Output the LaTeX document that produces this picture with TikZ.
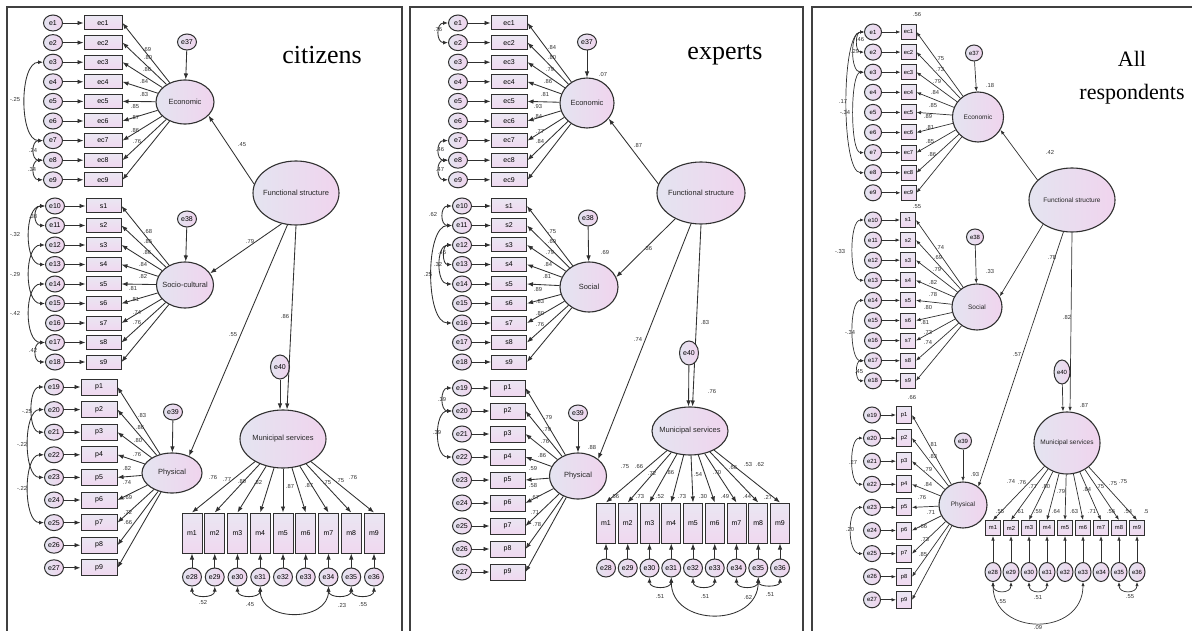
\documentclass[tikz,border=0pt]{standalone}
\usepackage{fontspec}
\setmainfont{Liberation Sans}
\newfontfamily\titlefont{Liberation Serif}
\usetikzlibrary{arrows.meta,shapes.geometric}
\definecolor{ln}{HTML}{303030}
\definecolor{latL}{HTML}{E4E4F0}
\definecolor{latR}{HTML}{F0D4EE}
\definecolor{boxT}{HTML}{EAE6F2}
\definecolor{boxB}{HTML}{F0D8F0}
\tikzset{
 arr/.style={-{Latex[length=6pt,width=4.5pt]}, line width=0.85pt, draw=ln},
 arrs/.style={-{Latex[length=4.5pt,width=3.5pt]}, line width=0.7pt, draw=ln},
 cov/.style={{Latex[length=5pt,width=4pt]}-{Latex[length=5pt,width=4pt]}, line width=0.85pt, draw=ln},
 covs/.style={{Latex[length=4pt,width=3.2pt]}-{Latex[length=4pt,width=3.2pt]}, line width=0.7pt, draw=ln},
 errbase/.style={ellipse, draw=ln, line width=1pt, left color=latL, right color=latR, inner sep=0pt},
 errA/.style={errbase, minimum width=19pt, minimum height=16pt, font=\fontsize{7}{7}\selectfont},
 errC/.style={errbase, minimum width=17pt, minimum height=16pt, font=\fontsize{6}{6}\selectfont},
 obsbase/.style={rectangle, draw=ln, line width=1pt, top color=boxT, bottom color=boxB, inner sep=0pt},
 obsA/.style={obsbase, minimum width=36pt, minimum height=14pt, font=\fontsize{7}{7}\selectfont},
 obsC/.style={obsbase, minimum width=15pt, minimum height=15pt, font=\fontsize{5.8}{6}\selectfont},
 lat/.style={ellipse, draw=ln, line width=1.1pt, left color=latL, right color=latR, inner sep=0pt},
 latlab/.style={inner sep=0pt, font=\fontsize{7.5}{8}\selectfont, text=black!85},
 latlabC/.style={inner sep=0pt, font=\fontsize{6.5}{7}\selectfont, text=black!85},
 lab/.style={inner sep=0pt, font=\fontsize{5.8}{6}\selectfont, text=ln},
 frame/.style={draw=black!75, line width=1.3pt},
 title/.style={font={\titlefont\fontsize{26}{30}\selectfont}, inner sep=0pt},
 titleC/.style={font={\titlefont\fontsize{22}{33}\selectfont}, inner sep=0pt, align=center},
}
\newcommand\mylabs[1]{\foreach \lx/\ly/\labtxt in {#1}{\node[lab] (lab-\lx-\ly) at (\lx,-\ly) {\labtxt};}}
\begin{document}
\begin{tikzpicture}[x=1pt,y=1pt]
\useasboundingbox (0,0) rectangle (1192,-631);
\fill[white] (0,0) rectangle (1192,-631);
% ================= Panel A : citizens =================
\draw[frame] (7,-640) -- (7,-7) -- (402,-7) -- (402,-640);
\node[title] (A-title) at (322,-55) {citizens};
\foreach \i in {1,...,9}{
  \pgfmathsetmacro\yy{-23-19.6*(\i-1)}
  \node[errA] (A-e\i) at (53,\yy) {e\i};
  \node[obsA,minimum width=38pt] (A-ec\i) at (103,\yy) {ec\i};
  \draw[arr] (A-e\i) -- (A-ec\i);
}
\foreach \i [evaluate=\i as \yy using -206-19.5*(\i-1), evaluate=\i as \n using int(9+\i)] in {1,...,9}{
  \node[errA] (A-e\n) at (55,\yy) {e\n};
  \node[obsA,minimum width=35pt] (A-s\i) at (103.5,\yy) {s\i};
  \draw[arr] (A-e\n) -- (A-s\i);
}
\foreach \i [evaluate=\i as \yy using -387-22.6*(\i-1), evaluate=\i as \n using int(18+\i)] in {1,...,9}{
  \node[errA] (A-e\n) at (54,\yy) {e\n};
  \node[obsA,minimum height=16pt] (A-p\i) at (99,\yy) {p\i};
  \draw[arr] (A-e\n) -- (A-p\i);
}
\node[lat,minimum width=58pt,minimum height=44pt,label={[latlab]center:Economic}] (A-Eco) at (185,-102) {};
\node[lat,minimum width=57pt,minimum height=46pt,label={[latlab]center:Socio-cultural}] (A-Soc) at (185,-285) {};
\node[lat,minimum width=60pt,minimum height=40pt,label={[latlab]center:Physical}] (A-Phy) at (172,-473) {};
\node[lat,minimum width=86pt,minimum height=64pt,label={[latlab]center:Functional structure}] (A-Fun) at (296,-193) {};
\node[lat,minimum width=86pt,minimum height=58pt,label={[latlab]center:Municipal services}] (A-Mun) at (283,-439) {};
\node[errA] (A-e37) at (187,-42) {e37};
\node[errA] (A-e38) at (187,-219) {e38};
\node[errA] (A-e39) at (173,-412) {e39};
\node[errA,minimum height=24pt] (A-e40) at (280,-367) {e40};
\draw[arr] (A-e37) -- (A-Eco);
\draw[arr] (A-e38) -- (A-Soc);
\draw[arr] (A-e39) -- (A-Phy);
\foreach \i in {1,...,9}{
  \draw[arr] (A-Eco) -- (A-ec\i.east);
  \draw[arr] (A-Soc) -- (A-s\i.east);
  \draw[arr] (A-Phy) -- (A-p\i.east);
}
\foreach \i [evaluate=\i as \xx using 192+22.75*(\i-1), evaluate=\i as \n using int(27+\i)] in {1,...,9}{
  \node[obsA,minimum width=20pt,minimum height=40pt] (A-m\i) at (\xx,-533) {m\i};
  \node[errA,minimum height=18pt] (A-e\n) at (\xx,-577) {e\n};
  \draw[arr] (A-e\n) -- (A-m\i);
  \draw[arr] (A-Mun) -- (A-m\i.north);
}
\draw[arr] (A-Fun.168) -- (A-Eco.-30);
\draw[arr] (A-Fun.-115) -- (A-Soc.25);
\draw[arr] (A-Fun.-105) -- (A-Phy.45);
\draw[arr] (A-Fun.south) -- ([xshift=4pt]A-Mun.north);
\draw[arr] (A-e40) -- ([xshift=-3pt]A-Mun.north);
\foreach \a/\b/\d in {3/7/24,7/8/12,8/9/12,10/11/12,10/13/21,12/15/21,14/17/21,17/18/12,19/21/16,20/23/21,22/25/21}
  \draw[cov] (A-e\a.west) to[out=180,in=180,distance=\d pt] (A-e\b.west);
\foreach \a/\b/\d in {28/29/12,30/31/12,31/34/36,34/35/12,35/36/12}
  \draw[cov] (A-e\a.south) to[out=-90,in=-90,distance=\d pt] (A-e\b.south);
\mylabs{147/50/.69,148/58/.80,147/70/.86,144/82/.84,144/95/.83,135/107/.85,135/118/.87,135/131/.86,137/142/.76,
15/100/-.25,33/150/.24,32/170/.34,
148/232/.68,148/242/.85,147/253/.86,143/265/.84,143/277/.82,133/289/.81,135/300/.81,137/313/.74,137/323/.76,
33/217/.38,15/235/-.32,15/275/-.29,15/313/-.42,33/350/.42,
142/416/.83,140/428/.86,138/441/.80,137/455/.76,127/469/.82,127/483/.74,128/498/.69,128/512/.72,128/523/.66,
27/412/-.25,22/444/-.22,22/488/-.22,
213/478/.76,227/480/.77,242/482/.80,258/483/.82,290/487/.87,309/486/.87,327/483/.75,340/481/.75,353/478/.76,
203/603/.52,250/605/.45,342/605/.23,363/605/.55,
242/145/.45,250/242/.79,233/335/.55,285/317/.86}
% ================= Panel B : experts =================
\draw[frame] (410,-640) -- (410,-7) -- (803,-7) -- (803,-640);
\node[title] (B-title) at (725,-55) {experts};
\foreach \i in {1,...,9}{
  \pgfmathsetmacro\yy{-23-19.6*(\i-1)}
  \node[errA] (B-e\i) at (458,\yy) {e\i};
  \node[obsA] (B-ec\i) at (509,\yy) {ec\i};
  \draw[arr] (B-e\i) -- (B-ec\i);
}
\foreach \i [evaluate=\i as \yy using -206-19.5*(\i-1), evaluate=\i as \n using int(9+\i)] in {1,...,9}{
  \node[errA] (B-e\n) at (462,\yy) {e\n};
  \node[obsA,minimum width=35pt] (B-s\i) at (509,\yy) {s\i};
  \draw[arr] (B-e\n) -- (B-s\i);
}
\foreach \i [evaluate=\i as \yy using -388-23*(\i-1), evaluate=\i as \n using int(18+\i)] in {1,...,9}{
  \node[errA] (B-e\n) at (462,\yy) {e\n};
  \node[obsA,minimum width=35pt,minimum height=16pt] (B-p\i) at (507.5,\yy) {p\i};
  \draw[arr] (B-e\n) -- (B-p\i);
}
\node[lat,minimum width=54pt,minimum height=50pt,label={[latlab]center:Economic}] (B-Eco) at (587,-103) {};
\node[lat,minimum width=58pt,minimum height=50pt,label={[latlab]center:Social}] (B-Soc) at (589,-287) {};
\node[lat,minimum width=57pt,minimum height=46pt,label={[latlab]center:Physical}] (B-Phy) at (578,-476) {};
\node[lat,minimum width=88pt,minimum height=62pt,label={[latlab]center:Functional structure}] (B-Fun) at (701,-193) {};
\node[lat,minimum width=76pt,minimum height=48pt,label={[latlab]center:Municipal services}] (B-Mun) at (690,-431) {};
\draw[arr] (B-Fun.south) -- ([xshift=2.5pt]B-Mun.north);
\node[errA] (B-e37) at (587,-42) {e37};
\node[errA] (B-e38) at (588,-218) {e38};
\node[errA] (B-e39) at (578,-413) {e39};
\node[errA,minimum height=24pt] (B-e40) at (689,-353) {e40};
\draw[arr] (B-e37) -- (B-Eco);
\draw[arr] (B-e38) -- (B-Soc);
\draw[arr] (B-e39) -- (B-Phy);
\foreach \i in {1,...,9}{
  \draw[arr] (B-Eco) -- (B-ec\i.east);
  \draw[arr] (B-Soc) -- (B-s\i.east);
  \draw[arr] (B-Phy) -- (B-p\i.east);
}
\foreach \i [evaluate=\i as \xx using 606+21.75*(\i-1), evaluate=\i as \n using int(27+\i)] in {1,...,9}{
  \node[obsA,minimum width=19pt,minimum height=40pt] (B-m\i) at (\xx,-523) {m\i};
  \node[errA,minimum height=18pt] (B-e\n) at (\xx,-568) {e\n};
  \draw[arr] (B-e\n) -- (B-m\i);
  \draw[arr] (B-Mun) -- (B-m\i.north);
}
\draw[arr] (B-Fun.168) -- (B-Eco.-36);
\draw[arr] (B-Fun.-135) -- (B-Soc.20);
\draw[arr] (B-Fun.-108) -- (B-Phy.40);
\draw[arr] (B-e40) -- ([xshift=-1.5pt]B-Mun.north);
\foreach \a/\b/\d in {1/2/12,7/8/12,8/9/12,10/11/12,12/13/10,12/14/16,11/16/27,19/20/12,20/22/18}
  \draw[cov] (B-e\a.west) to[out=180,in=180,distance=\d pt] (B-e\b.west);
\foreach \a/\b/\d in {30/31/12,32/33/12,34/35/12,35/36/10,31/35/50}
  \draw[cov] (B-e\a.south) to[out=-90,in=-90,distance=\d pt] (B-e\b.south);
\mylabs{552/48/.84,552/58/.80,550/70/.79,548/82/.86,545/95/.81,538/107/.93,538/117/.84,540/132/.77,540/142/.84,
603/75/.07,
438/30/.76,440/150/.46,440/170/.47,
552/232/.75,552/242/.69,550/253/.79,548/265/.84,547/277/.81,538/290/.89,540/302/.83,540/314/.80,540/325/.76,
605/253/.69,
433/215/.62,442/253/.46,438/265/.32,428/275/.25,
548/418/.79,547/430/.79,545/442/.76,542/456/.86,533/469/.59,533/486/.58,535/498/.67,535/513/.71,537/525/.78,
592/448/.88,
442/400/.39,437/433/.39,
625/467/.75,639/467/.66,652/473/.72,670/473/.86,698/475/.54,717/473/.70,733/468/.66,748/465/.53,760/465/.62,
615/497/.56,640/497/.73,660/497/.52,682/497/.73,703/497/.30,725/497/.49,747/497/.44,768/497/.27,
712/392/.76,
660/597/.51,705/597/.51,748/598/.62,770/595/.51,
638/146/.87,648/249/.36,638/340/.74,705/323/.83}
% ================= Panel C : all respondents =================
\draw[frame] (812,-640) -- (812,-7) -- (1200,-7);
\node[titleC] (C-title) at (1132,-78) {All\\respondents};
\foreach \i in {1,...,9}{
  \pgfmathsetmacro\yy{-32-20.1*(\i-1)}
  \node[errC] (C-e\i) at (873,\yy) {e\i};
  \node[obsC] (C-ec\i) at (908.5,\yy) {ec\i};
  \draw[arrs] (C-e\i) -- (C-ec\i);
}
\foreach \i [evaluate=\i as \yy using -220-20.1*(\i-1), evaluate=\i as \n using int(9+\i)] in {1,...,9}{
  \node[errC] (C-e\n) at (873,\yy) {e\n};
  \node[obsC] (C-s\i) at (908,\yy) {s\i};
  \draw[arrs] (C-e\n) -- (C-s\i);
}
\foreach \i [evaluate=\i as \yy using -415-23.1*(\i-1), evaluate=\i as \n using int(18+\i)] in {1,...,9}{
  \node[errC] (C-e\n) at (872,\yy) {e\n};
  \node[obsC,minimum height=17pt] (C-p\i) at (904,\yy) {p\i};
  \draw[arrs] (C-e\n) -- (C-p\i);
}
\node[lat,minimum width=51pt,minimum height=50pt,label={[latlabC]center:Economic}] (C-Eco) at (978,-117) {};
\node[lat,minimum width=50pt,minimum height=46pt,label={[latlabC]center:Social}] (C-Soc) at (977,-307) {};
\node[lat,minimum width=48pt,minimum height=46pt,label={[latlabC]center:Physical}] (C-Phy) at (963,-505) {};
\node[lat,minimum width=86pt,minimum height=64pt,label={[latlabC]center:Functional structure}] (C-Fun) at (1072,-200) {};
\node[lat,minimum width=66pt,minimum height=62pt,label={[latlabC]center:Municipal services}] (C-Mun) at (1067,-443) {};
\node[errC] (C-e37) at (974,-53) {e37};
\node[errC] (C-e38) at (975,-237) {e38};
\node[errC] (C-e39) at (963,-441) {e39};
\node[errC,minimum width=16pt,minimum height=24pt] (C-e40) at (1062,-372) {e40};
\draw[arrs] (C-e37) -- (C-Eco);
\draw[arrs] (C-e38) -- (C-Soc);
\draw[arrs] (C-e39) -- (C-Phy);
\foreach \i in {1,...,9}{
  \draw[arrs] (C-Eco) -- (C-ec\i.east);
  \draw[arrs] (C-Soc) -- (C-s\i.east);
  \draw[arrs] (C-Phy) -- (C-p\i.east);
}
\foreach \i [evaluate=\i as \xx using 993+18*(\i-1), evaluate=\i as \n using int(27+\i)] in {1,...,9}{
  \node[obsC] (C-m\i) at (\xx,-528) {m\i};
  \node[errC,minimum width=16pt,minimum height=19pt] (C-e\n) at (\xx,-572) {e\n};
  \draw[arrs] (C-e\n) -- (C-m\i);
  \draw[arrs] (C-Mun) -- (C-m\i.north);
}
\draw[arrs] (C-Fun.150) -- (C-Eco.-30);
\draw[arrs] (C-Fun.-140) -- (C-Soc.25);
\draw[arrs] (C-Fun.-105) -- (C-Phy.50);
\draw[arrs] (C-Fun.south) -- ([xshift=3pt]C-Mun.north);
\draw[arrs] (C-e40) -- ([xshift=-4pt]C-Mun.north);
\foreach \a/\b/\d in {1/2/9,1/3/14,1/8/23,3/7/14,10/13/15,14/17/15,17/18/9,20/22/14,23/25/16}
  \draw[covs] (C-e\a.west) to[out=180,in=180,distance=\d pt] (C-e\b.west);
\foreach \a/\b/\d in {28/29/12,30/31/12,28/33/55,35/36/12}
  \draw[covs] (C-e\a.south) to[out=-90,in=-90,distance=\d pt] (C-e\b.south);
\mylabs{940/59/.75,940/70/.73,937/82/.79,935/93/.84,933/106/.85,928/117/.89,930/128/.81,930/142/.85,932/155/.86,
990/86/.18,917/15/.56,
860/40/.46,855/52/.29,843/102/.17,845/113/-.34,
940/248/.74,938/258/.69,937/270/.79,933/283/.82,933/295/.78,928/308/.80,925/323/.81,928/333/.73,928/343/.74,
990/272/.33,917/207/.55,
840/252/-.33,850/333/-.34,859/372/.45,
933/445/.81,933/457/.83,928/470/.79,928/485/.84,922/498/.76,931/513/.71,923/527/.66,925/540/.73,923/555/.85,
975/475/.93,912/398/.66,
853/462/.27,850/530/.20,
1011/482/.74,1022/483/.76,1033/487/.77,1046/487/.80,1061/492/.79,1087/490/.84,1100/487/.75,1113/484/.75,1123/482/.75,
1000/512/.55,1020/512/.61,1038/512/.59,1056/512/.64,1074/512/.63,1092/512/.71,1111/512/.56,1128/512/.54,1146/512/.5,
1084/406/.87,
1002/602/.55,1038/598/.51,1130/597/.55,1038/628/.09,
1050/152/.42,1052/258/.78,1017/355/.57,1067/318/.82}
\end{tikzpicture}
\end{document}
